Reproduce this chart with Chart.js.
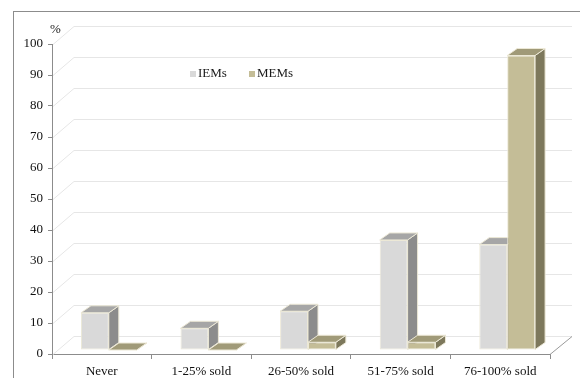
<!DOCTYPE html>
<html>
<head>
<meta charset="utf-8">
<script src="https://cdn.jsdelivr.net/npm/chart.js@4.4.1/dist/chart.umd.min.js"></script>
<style>
  html, body { margin: 0; padding: 0; background: #ffffff; }
  #wrap { width: 580px; height: 378px; }
</style>
</head>
<body>
<div id="wrap"><canvas id="c" width="580" height="378"></canvas></div>
<script>
// Share of respondents (%) by how much of the produce was sold
const categories = ['Never', '1-25% sold', '26-50% sold', '51-75% sold', '76-100% sold'];
const iems = [12, 7, 12.5, 35.5, 34];
const mems = [0, 0, 2.5, 2.5, 95];
const seriesNames = ['IEMs', 'MEMs'];
const yMin = 0, yMax = 100, yStep = 10;
const yUnit = '%';

// palette: front, side, top
const faces = [
  { front: '#D9D9D9', side: '#8C8C8C', top: '#A6A6A6' },
  { front: '#C4BD97', side: '#7D785C', top: '#A09A78' }
];
const edge = '#ECE8D6';

// depth of the walls and of the columns
const WALL_DX = 22, WALL_DY = 18;
const BAR_OX = 7, BAR_OY = 4;
const BAR_DX = 10, BAR_DY = 7;
const FONT = '"Liberation Serif", "Times New Roman", serif';

function poly(ctx, pts, fill) {
  ctx.beginPath();
  ctx.moveTo(pts[0][0], pts[0][1]);
  for (let i = 1; i < pts.length; i++) ctx.lineTo(pts[i][0], pts[i][1]);
  ctx.closePath();
  ctx.fillStyle = fill;
  ctx.fill();
  ctx.strokeStyle = edge;
  ctx.lineWidth = 1;
  ctx.stroke();
}

const depthPlugin = {
  id: 'depth3d',
  beforeDraw(chart) {
    const ctx = chart.ctx;
    ctx.save();
    ctx.strokeStyle = '#8C8C8C';
    ctx.lineWidth = 1;
    ctx.strokeRect(13.5, 11.5, 620, 420);
    ctx.restore();
  },
  beforeDatasetsDraw(chart) {
    const ctx = chart.ctx;
    const { left, right, bottom } = chart.chartArea;
    const ys = chart.scales.y;
    // side wall and back wall grid
    ctx.save();
    ctx.lineWidth = 1;
    ctx.strokeStyle = '#E6E6E6';
    ys.ticks.forEach(t => {
      const y = Math.round(ys.getPixelForValue(t.value)) + 0.5;
      ctx.beginPath();
      ctx.moveTo(left + 1, y);
      ctx.lineTo(left + WALL_DX, y - WALL_DY);
      ctx.lineTo(right + WALL_DX, y - WALL_DY);
      ctx.stroke();
    });
    // right edge of the floor
    ctx.strokeStyle = '#9A9A9A';
    ctx.beginPath();
    ctx.moveTo(right, bottom + 0.5);
    ctx.lineTo(right + WALL_DX, bottom + 0.5 - WALL_DY);
    ctx.stroke();
    ctx.restore();

    // columns stand inside the floor depth
    ctx.save();
    ctx.translate(BAR_OX, -BAR_OY);
    chart.data.datasets.forEach((ds, di) => {
      const meta = chart.getDatasetMeta(di);
      meta.data.forEach(bar => {
        const p = bar.getProps(['x', 'y', 'base', 'width'], true);
        const l = p.x - p.width / 2, r = p.x + p.width / 2;
        const top = Math.min(p.y, p.base), base = Math.max(p.y, p.base);
        poly(ctx, [[r, top], [r + BAR_DX, top - BAR_DY], [r + BAR_DX, base - BAR_DY], [r, base]], faces[di].side);
        poly(ctx, [[l, top], [r, top], [r + BAR_DX, top - BAR_DY], [l + BAR_DX, top - BAR_DY]], faces[di].top);
      });
    });
  },
  afterDatasetsDraw(chart) {
    chart.ctx.restore();
  },
  afterDraw(chart) {
    const ctx = chart.ctx;
    ctx.save();
    ctx.font = '13px ' + FONT;
    ctx.fillStyle = '#1A1A1A';
    ctx.textBaseline = 'alphabetic';
    ctx.textAlign = 'left';
    ctx.fillText(yUnit, 50, 33);
    // legend
    const items = [{ x: 190 }, { x: 249 }];
    chart.data.datasets.forEach((ds, i) => {
      ctx.fillStyle = faces[i].front;
      ctx.fillRect(items[i].x, 71, 6, 6);
      ctx.fillStyle = '#1A1A1A';
      ctx.fillText(ds.label, items[i].x + 8, 77);
    });
    ctx.restore();
  }
};

new Chart(document.getElementById('c'), {
  type: 'bar',
  data: {
    labels: categories,
    datasets: [
      { label: seriesNames[0], data: iems, backgroundColor: faces[0].front },
      { label: seriesNames[1], data: mems, backgroundColor: faces[1].front }
    ]
  },
  options: {
    responsive: false,
    animation: false,
    devicePixelRatio: 1,
    layout: { padding: { left: 0, top: 44, right: 30, bottom: 0 } },
    datasets: {
      bar: {
        categoryPercentage: 0.56,
        barPercentage: 1.0,
        borderColor: edge,
        borderWidth: 1,
        borderSkipped: false,
        clip: false
      }
    },
    plugins: {
      legend: { display: false },
      tooltip: { enabled: false }
    },
    scales: {
      x: {
        afterFit(scale) { scale.height = 24; },
        grid: { offset: true, drawOnChartArea: false, tickLength: 5, color: '#8C8C8C' },
        border: { color: '#8C8C8C' },
        ticks: { color: '#111111', font: { family: FONT, size: 13 }, padding: 5, maxRotation: 0 }
      },
      y: {
        min: yMin,
        max: yMax,
        afterFit(scale) { scale.width = 52; },
        grid: { drawOnChartArea: false, tickLength: 4, color: '#8C8C8C' },
        border: { color: '#8C8C8C' },
        ticks: { stepSize: yStep, color: '#111111', font: { family: FONT, size: 13 }, padding: 5 }
      }
    }
  },
  plugins: [depthPlugin]
});
</script>
</body>
</html>
